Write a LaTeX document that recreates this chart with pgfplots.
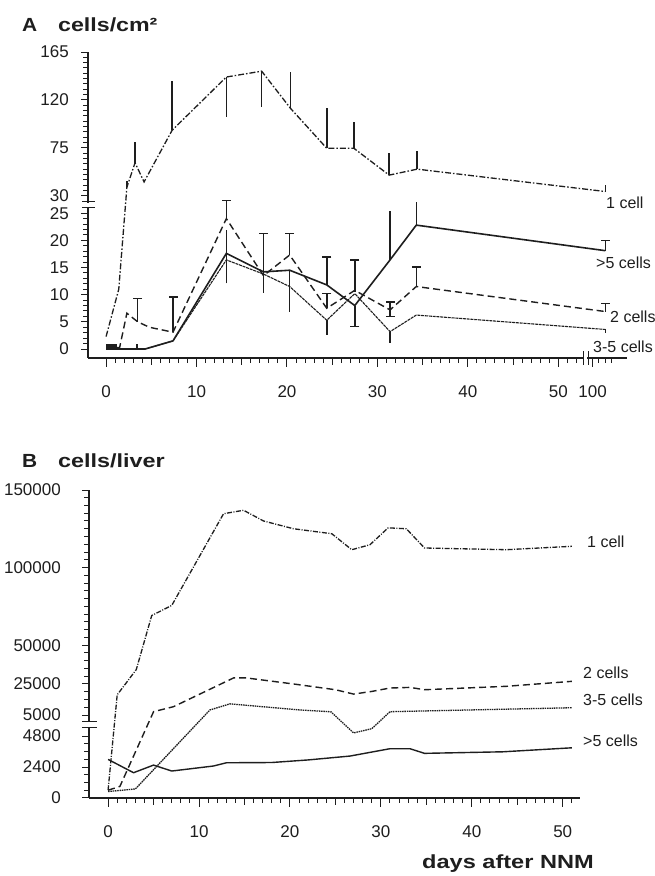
\documentclass[border=0pt]{standalone}
\usepackage{pgfplots}
\pgfplotsset{compat=1.18}
\usepackage{graphicx}
\usepackage{fontspec}
\setmainfont{Liberation Sans}

\definecolor{ink}{RGB}{30,30,30}

\pgfplotsset{
  errbar/.style={ink, line width=1.5pt, solid, forget plot},
  onecell/.style={ink, line width=1.3pt, dash pattern=on 6pt off 2pt on 1.5pt off 2pt},
  twocell/.style={ink, line width=1.4pt, dash pattern=on 7pt off 4pt},
  threecell/.style={ink, line width=1.1pt, dash pattern=on 3pt off 0.8pt},
  fivecell/.style={ink, line width=1.6pt},
  panel/.style={
    scale only axis,
    axis lines*=left,
    axis line style={ink, line width=1.1pt},
    tick align=outside,
    major tick length=8pt, minor tick length=4.5pt,
    % tick marks are drawn separately, with three lengths
    every tick/.style={draw=none},
    tick label style={font=\fontsize{17}{17}\selectfont, text=ink, inner sep=0pt},
    xticklabel style={anchor=north, yshift=-19pt},
    yticklabel style={anchor=east, xshift=-11pt},
  },
}
% vertical error bar from the mean (#2) to the end of the bar (#3), at day #1
\newcommand{\ebar}[3]{\addplot[errbar] coordinates {(#1,#2) (#1,#3)};}
\newcommand{\ebarcap}[3]{\addplot[errbar, mark=-, mark size=4.5pt, mark indices={2}] coordinates {(#1,#2) (#1,#3)};}

\begin{document}
\begin{tikzpicture}
\fill[white] (0pt,0pt) rectangle (655pt,876pt);
\path[use as bounding box] (0pt,0pt) rectangle (655pt,876pt);

% ---------------- Panel A: cells per cm^2 ----------------
\begin{axis}[panel,
  at={(88pt,518pt)}, anchor=south west,
  width=539pt, height=306pt,
  xmin=-2, xmax=57.6, ymin=-1.65, ymax=54.66,
  % broken x axis: the late time point sits just after the break
  x filter/.expression={x<60 ? x : 53.8+(x-100)*0.14},
  % broken y axis: 0-25 below, 30-165 above
  y filter/.expression={y<25 ? y : (y<30 ? 25+(y-25)*0.64 : 28.2+(y-30)*0.196)},
  xtick={0,10,20,30,40,50,53.8},
  xticklabels={0,10,20,30,40,50,100},
  ytick={0,5,10,15,20,25,28.2,37.02,45.84,54.66},
  yticklabels={0,5,10,15,20,25,30,75,120,165},
]
% 1 cell
\addplot[onecell] coordinates {(0,2.3)(1.4,11)(2.3,38)(3.2,61)(4.2,43)(7.3,91.5)(13.3,141.5)(17.2,147)(20.4,112)(24.4,74.6)(27.4,74.6)(31.3,49.4)(34.4,55)(110,34)};
% 2 cells
\addplot[twocell] coordinates {(0,0)(1.5,0.3)(2.3,6.6)(3.5,5.0)(4.8,4.0)(7.4,3.1)(13.3,24)(17.4,13.5)(20.3,17.3)(24.4,7.5)(27.5,10.8)(31.4,7.2)(34.3,11.5)(110,6.9)};
% 3-5 cells
\addplot[threecell] coordinates {(0,0)(4.3,0)(7.4,1.5)(13.3,16.4)(17.4,13.8)(20.3,11.5)(24.4,5.3)(27.5,10.2)(31.4,3.2)(34.3,6.25)(110,3.6)};
% >5 cells
\addplot[fivecell] coordinates {(0,0)(4.3,0)(7.4,1.5)(13.3,17.6)(17.4,14.2)(20.3,14.5)(24.4,11.8)(27.5,8.0)(31.4,16.4)(34.3,22.8)(110,18.1)};

% error bars, 1 cell
\ebar{2.3}{38}{44}
\ebar{3.2}{61}{80.5}
\ebar{7.3}{91.5}{138}
\ebar{13.3}{141.5}{103.6}
\ebar{17.2}{147}{113.5}
\ebar{20.4}{112}{146}
\ebar{24.4}{74.6}{112}
\ebar{27.4}{74.6}{99}
\ebar{31.3}{49.4}{70}
\ebar{34.4}{55}{72}
\ebar{110}{34}{40}
% error bars, 2 cells
\ebarcap{3.5}{5.0}{9.3}
\ebarcap{7.4}{3.1}{9.6}
\ebarcap{13.3}{24}{28.6}
\ebarcap{20.3}{17.3}{21.3}
\ebarcap{24.4}{7.5}{10.2}
\ebarcap{31.4}{7.2}{8.7}
\ebarcap{31.4}{7.2}{6.0}
\ebarcap{34.3}{11.5}{15.1}
\ebarcap{110}{6.9}{8.4}
% error bars, 3-5 and >5 cells
\addplot[errbar, line width=5pt] coordinates {(0,0.5)(1.2,0.5)};
\ebar{3.4}{0}{1.0}
\ebar{13.3}{12.1}{21.9}
\ebarcap{17.4}{14}{21.3}
\ebar{17.4}{14}{10.3}
\ebar{20.3}{6.9}{14.5}
\ebarcap{24.4}{11.8}{16.9}
\ebar{24.4}{5.3}{2.6}
\ebarcap{27.5}{10.5}{16.4}
\ebarcap{27.5}{8}{4.1}
\ebar{31.4}{16.4}{25.6}
\ebar{31.4}{3.2}{1.1}
\ebar{34.3}{22.8}{28.3}
\ebarcap{110}{18.1}{20}
\ebar{110}{3.6}{2.9}
\end{axis}

% ---------------- Panel B: cells per liver ----------------
\begin{axis}[panel,
  at={(89pt,78pt)}, anchor=south west,
  width=491pt, height=308pt,
  xmin=-2.1, xmax=51.9, ymin=0, ymax=23.87,
  % broken y axis: 0-4800 below, 5000-150000 above
  y filter/.expression={y<4800 ? y/1000 : (y<5000 ? 4.8+(y-4800)*0.00815 : 6.43+(y-5000)*0.0001203)},
  xtick={0,10,20,30,40,50},
  xticklabels={0,10,20,30,40,50},
  ytick={0,2.4,4.8,6.43,8.836,11.84,17.86,23.87},
  yticklabels={0,2400,4800,5000,25000,50000,100000,150000},
  yticklabel style={xshift=-9pt},
]
% 1 cell
\addplot[onecell, dash pattern=on 5pt off 1.5pt on 1pt off 1.5pt] coordinates {(0,600)(1,18000)(3.1,34300)(4.8,69100)(7.0,75600)(12.7,134700)(14.9,136900)(17.1,130000)(20.4,125000)(24.6,121800)(26.8,111500)(28.8,114700)(30.8,125600)(32.8,125000)(34.8,112600)(43.8,111500)(51,113700)};
% 2 cells
\addplot[twocell] coordinates {(0,600)(1.3,900)(5,7150)(7.2,10400)(13.8,28900)(15.2,28900)(20.4,25000)(25,21300)(27,18500)(29,20200)(31,22400)(33.2,22800)(34.8,21300)(43.8,23500)(51,26700)};
% 3-5 cells
\addplot[threecell, line width=1.3pt, dash pattern=on 1.5pt off 0.8pt] coordinates {(0,500)(3,700)(11.2,8260)(13.4,12200)(21.1,8260)(24.5,7100)(27,4830)(29,4870)(31,7150)(51,9700)};
% >5 cells
\addplot[fivecell, line width=1.4pt] coordinates {(0,2990)(2.8,1960)(5,2550)(7,2090)(11.6,2480)(13,2730)(18,2750)(22,2950)(26.6,3250)(31,3820)(33.2,3820)(34.8,3460)(43.4,3580)(51,3890)};
\end{axis}

\begin{scope}[x=1pt, y=1pt, ink]
% tick marks, panel A, y axis: 0-25 every 1, 30-165 every 5
\draw[line width=1pt] (87.6,526.97)--(83,526.97) (87.6,532.40)--(83,532.40) (87.6,537.84)--(83,537.84) (87.6,543.27)--(83,543.27) (87.6,548.71)--(83,548.71) (87.6,559.57)--(83,559.57) (87.6,565.01)--(83,565.01) (87.6,570.44)--(83,570.44) (87.6,575.87)--(83,575.87) (87.6,586.74)--(83,586.74) (87.6,592.18)--(83,592.18) (87.6,597.61)--(83,597.61) (87.6,603.05)--(83,603.05) (87.6,613.91)--(83,613.91) (87.6,619.35)--(83,619.35) (87.6,624.78)--(83,624.78) (87.6,630.22)--(83,630.22) (87.6,641.08)--(83,641.08) (87.6,646.52)--(83,646.52) (87.6,651.95)--(83,651.95) (87.6,657.39)--(83,657.39)
  (87.6,685.54)--(83,685.54) (87.6,690.86)--(83,690.86) (87.6,696.19)--(83,696.19) (87.6,701.51)--(83,701.51) (87.6,706.84)--(83,706.84) (87.6,712.16)--(83,712.16) (87.6,717.49)--(83,717.49) (87.6,722.81)--(83,722.81) (87.6,733.47)--(83,733.47) (87.6,738.79)--(83,738.79) (87.6,744.12)--(83,744.12) (87.6,749.44)--(83,749.44) (87.6,754.77)--(83,754.77) (87.6,760.09)--(83,760.09) (87.6,765.42)--(83,765.42) (87.6,770.74)--(83,770.74) (87.6,781.40)--(83,781.40) (87.6,786.72)--(83,786.72) (87.6,792.05)--(83,792.05) (87.6,797.37)--(83,797.37) (87.6,802.70)--(83,802.70) (87.6,808.02)--(83,808.02) (87.6,813.35)--(83,813.35) (87.6,818.67)--(83,818.67);
\draw[line width=1pt] (87.6,526.97)--(80.5,526.97) (87.6,554.14)--(80.5,554.14) (87.6,581.31)--(80.5,581.31) (87.6,608.48)--(80.5,608.48) (87.6,635.65)--(80.5,635.65) (87.6,662.82)--(80.5,662.82) (87.6,680.21)--(80.5,680.21) (87.6,728.14)--(80.5,728.14) (87.6,776.07)--(80.5,776.07) (87.6,823.5)--(80.5,823.5);
% tick marks, panel A, x axis
\draw[line width=1pt] (115.13,517.6)--(115.13,512.5) (124.17,517.6)--(124.17,512.5) (133.22,517.6)--(133.22,512.5) (142.26,517.6)--(142.26,512.5) (160.35,517.6)--(160.35,512.5) (169.39,517.6)--(169.39,512.5) (178.44,517.6)--(178.44,512.5) (187.48,517.6)--(187.48,512.5) (205.57,517.6)--(205.57,512.5) (214.61,517.6)--(214.61,512.5) (223.65,517.6)--(223.65,512.5) (232.70,517.6)--(232.70,512.5) (250.78,517.6)--(250.78,512.5) (259.83,517.6)--(259.83,512.5) (268.87,517.6)--(268.87,512.5) (277.91,517.6)--(277.91,512.5) (296.00,517.6)--(296.00,512.5) (305.05,517.6)--(305.05,512.5) (314.09,517.6)--(314.09,512.5) (323.13,517.6)--(323.13,512.5) (341.22,517.6)--(341.22,512.5) (350.26,517.6)--(350.26,512.5) (359.31,517.6)--(359.31,512.5) (368.35,517.6)--(368.35,512.5)
  (386.44,517.6)--(386.44,512.5) (395.48,517.6)--(395.48,512.5) (404.53,517.6)--(404.53,512.5) (413.57,517.6)--(413.57,512.5) (431.66,517.6)--(431.66,512.5) (440.70,517.6)--(440.70,512.5) (449.74,517.6)--(449.74,512.5) (458.79,517.6)--(458.79,512.5) (476.87,517.6)--(476.87,512.5) (485.92,517.6)--(485.92,512.5) (494.96,517.6)--(494.96,512.5) (504.00,517.6)--(504.00,512.5) (522.09,517.6)--(522.09,512.5) (531.14,517.6)--(531.14,512.5) (540.18,517.6)--(540.18,512.5) (549.22,517.6)--(549.22,512.5) (567.31,517.6)--(567.31,512.5) (576.35,517.6)--(576.35,512.5) (598.96,517.6)--(598.96,512.5) (605.29,517.6)--(605.29,512.5) (611.62,517.6)--(611.62,512.5);
\draw[line width=1pt] (151.31,517.6)--(151.31,510.5) (241.74,517.6)--(241.74,510.5) (332.18,517.6)--(332.18,510.5) (422.61,517.6)--(422.61,510.5) (513.05,517.6)--(513.05,510.5);
\draw[line width=1pt] (106.09,517.6)--(106.09,508.5) (196.52,517.6)--(196.52,508.5) (286.96,517.6)--(286.96,508.5) (377.39,517.6)--(377.39,508.5) (467.83,517.6)--(467.83,508.5) (558.27,517.6)--(558.27,508.5) (592.63,517.6)--(592.63,508.5);
% tick marks, panel B, y axis: 0-4800 every 600, 5000-150000 every 5000
\draw[line width=1pt] (88.6,85.74)--(84,85.74) (88.6,93.48)--(84,93.48) (88.6,101.23)--(84,101.23) (88.6,116.71)--(84,116.71) (88.6,124.45)--(84,124.45) (88.6,132.19)--(84,132.19)
  (88.6,168.73)--(84,168.73) (88.6,176.49)--(84,176.49) (88.6,184.25)--(84,184.25) (88.6,199.78)--(84,199.78) (88.6,207.54)--(84,207.54) (88.6,215.30)--(84,215.30) (88.6,223.06)--(84,223.06) (88.6,238.58)--(84,238.58) (88.6,246.34)--(84,246.34) (88.6,254.10)--(84,254.10) (88.6,261.87)--(84,261.87) (88.6,269.63)--(84,269.63) (88.6,277.39)--(84,277.39) (88.6,285.15)--(84,285.15) (88.6,292.91)--(84,292.91) (88.6,300.67)--(84,300.67) (88.6,316.19)--(84,316.19) (88.6,323.96)--(84,323.96) (88.6,331.72)--(84,331.72) (88.6,339.48)--(84,339.48) (88.6,347.24)--(84,347.24) (88.6,355.00)--(84,355.00) (88.6,362.76)--(84,362.76) (88.6,370.52)--(84,370.52) (88.6,378.28)--(84,378.28);
\draw[line width=1pt] (88.6,78.5)--(81.5,78.5) (88.6,108.97)--(81.5,108.97) (88.6,139.93)--(81.5,139.93) (88.6,160.97)--(81.5,160.97) (88.6,192.01)--(81.5,192.01) (88.6,230.82)--(81.5,230.82) (88.6,308.43)--(81.5,308.43) (88.6,385.5)--(81.5,385.5);
% tick marks, panel B, x axis
\draw[line width=1pt] (117.19,77.6)--(117.19,72.5) (126.28,77.6)--(126.28,72.5) (135.37,77.6)--(135.37,72.5) (144.46,77.6)--(144.46,72.5) (162.65,77.6)--(162.65,72.5) (171.74,77.6)--(171.74,72.5) (180.83,77.6)--(180.83,72.5) (189.93,77.6)--(189.93,72.5) (208.11,77.6)--(208.11,72.5) (217.20,77.6)--(217.20,72.5) (226.30,77.6)--(226.30,72.5) (235.39,77.6)--(235.39,72.5) (253.57,77.6)--(253.57,72.5) (262.67,77.6)--(262.67,72.5) (271.76,77.6)--(271.76,72.5) (280.85,77.6)--(280.85,72.5) (299.04,77.6)--(299.04,72.5) (308.13,77.6)--(308.13,72.5) (317.22,77.6)--(317.22,72.5) (326.32,77.6)--(326.32,72.5)
  (344.50,77.6)--(344.50,72.5) (353.59,77.6)--(353.59,72.5) (362.69,77.6)--(362.69,72.5) (371.78,77.6)--(371.78,72.5) (389.96,77.6)--(389.96,72.5) (399.06,77.6)--(399.06,72.5) (408.15,77.6)--(408.15,72.5) (417.24,77.6)--(417.24,72.5) (435.43,77.6)--(435.43,72.5) (444.52,77.6)--(444.52,72.5) (453.61,77.6)--(453.61,72.5) (462.71,77.6)--(462.71,72.5) (480.89,77.6)--(480.89,72.5) (489.98,77.6)--(489.98,72.5) (499.08,77.6)--(499.08,72.5) (508.17,77.6)--(508.17,72.5) (526.35,77.6)--(526.35,72.5) (535.45,77.6)--(535.45,72.5) (544.54,77.6)--(544.54,72.5) (553.63,77.6)--(553.63,72.5) (571.82,77.6)--(571.82,72.5);
\draw[line width=1pt] (153.56,77.6)--(153.56,70.5) (244.48,77.6)--(244.48,70.5) (335.41,77.6)--(335.41,70.5) (426.34,77.6)--(426.34,70.5) (517.26,77.6)--(517.26,70.5);
\draw[line width=1pt] (108.09,77.6)--(108.09,68.5) (199.02,77.6)--(199.02,68.5) (289.95,77.6)--(289.95,68.5) (380.87,77.6)--(380.87,68.5) (471.80,77.6)--(471.80,68.5) (562.72,77.6)--(562.72,68.5);

% axis breaks
\fill[white] (84,668.6) rectangle (94,673.4);
\draw[line width=1pt] (82,668) -- (95,668) (82,674) -- (95,674);
\fill[white] (583.6,513) rectangle (587.4,523);
\draw[line width=1pt] (583,511) -- (583,525) (588,511) -- (588,525);
\fill[white] (84,149.3) rectangle (95,153.7);
\draw[line width=1pt] (82,148.7) -- (97,148.7) (82,154.3) -- (97,154.3);

% series names
\begin{scope}[every node/.style={anchor=west, inner sep=0pt, text=ink, font=\fontsize{16}{16}\selectfont}]
\node at (606,673.5) {1 cell};
\node at (596,613) {>5 cells};
\node at (610,559.3) {2 cells};
\node at (593,529.3) {3-5 cells};
\node at (587,334.5) {1 cell};
\node at (583,203.5) {2 cells};
\node at (583,176) {3-5 cells};
\node at (583,135.5) {>5 cells};
\end{scope}

% panel titles and axis caption
\begin{scope}[every node/.style={anchor=base west, inner sep=0pt, text=ink, font=\bfseries\fontsize{19}{19}\selectfont}]
\node at (22,844) {\scalebox{1.1}[1]{A}};
\node at (58,844) {\scalebox{1.22}[1]{cells/cm²}};
\node at (22,408) {\scalebox{1.1}[1]{B}};
\node at (58,408) {\scalebox{1.23}[1]{cells/liver}};
\node at (422,7) {\scalebox{1.24}[1]{days after NNM}};
\end{scope}
\end{scope}
\end{tikzpicture}
\end{document}
